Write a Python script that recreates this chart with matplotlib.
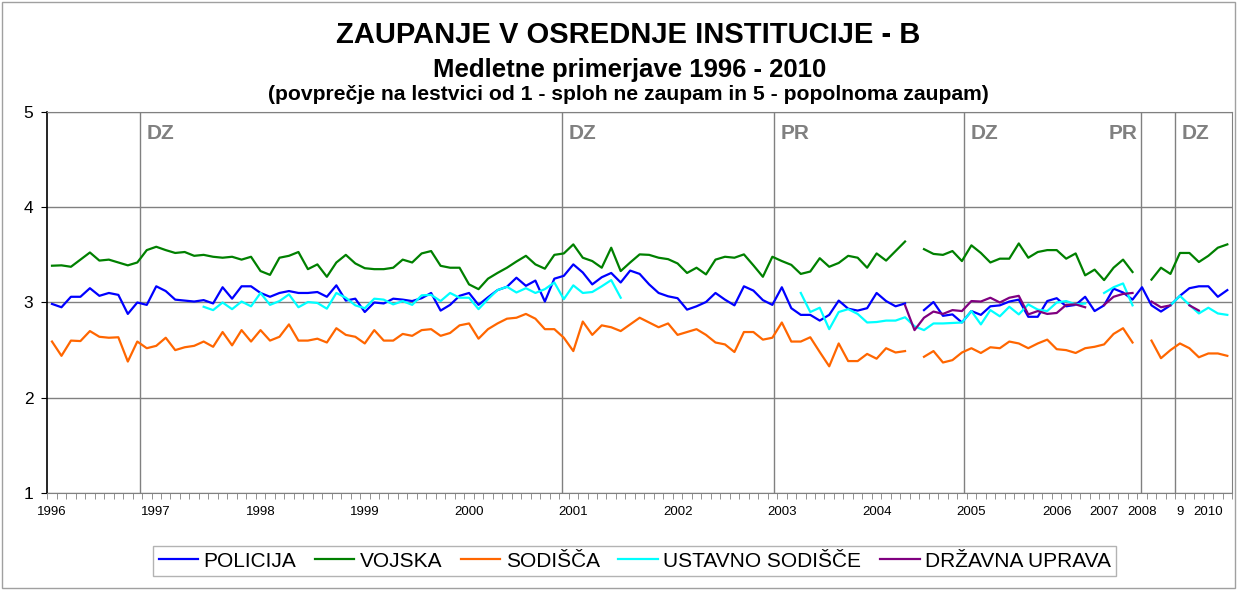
import numpy as np
import matplotlib.pyplot as plt
from matplotlib.patches import Rectangle

nan = np.nan

# monthly-ish survey points, one value per category slot
policija = [2.985, 2.95, 3.06, 3.06, 3.15, 3.07, 3.10, 3.08, 2.88, 3.0, 2.975, 3.17, 3.12, 3.03, 3.02, 3.01, 3.025, 2.99,
            3.16, 3.04, 3.17, 3.17, 3.10, 3.06, 3.10, 3.12, 3.10, 3.10, 3.11, 3.06, 3.18, 3.02, 3.04, 2.90, 3.0, 2.99,
            3.04, 3.03, 3.015, 3.045, 3.10, 2.915, 2.975, 3.07, 3.10, 2.975, 3.055, 3.13, 3.165, 3.26, 3.175, 3.23, 3.01, 3.25,
            3.28, 3.40, 3.315, 3.19, 3.265, 3.31, 3.21, 3.335, 3.30, 3.19, 3.10, 3.065, 3.045, 2.925, 2.96, 3.005, 3.10, 3.03,
            2.97, 3.17, 3.125, 3.025, 2.975, 3.16, 2.94, 2.87, 2.87, 2.81, 2.87, 3.02, 2.935, 2.915, 2.94, 3.10, 3.015, 2.96,
            2.99, nan, 2.92, 3.005, 2.86, 2.875, 2.79, 2.91, 2.87, 2.96, 2.97, 3.01, 3.03, 2.85, 2.85, 3.015, 3.045, 2.96,
            2.975, 3.06, 2.91, 2.97, 3.145, 3.105, 3.03, 3.16, 2.97, 2.905, 2.97, 3.07, 3.15, 3.17, 3.17, 3.06, 3.13]

vojska = [3.386, 3.39, 3.375, 3.45, 3.525, 3.44, 3.45, 3.42, 3.39, 3.42, 3.55, 3.585, 3.55, 3.52, 3.53, 3.49, 3.50, 3.48,
          3.47, 3.48, 3.45, 3.48, 3.33, 3.29, 3.47, 3.49, 3.53, 3.35, 3.40, 3.27, 3.42, 3.50, 3.41, 3.36, 3.35, 3.35,
          3.365, 3.45, 3.42, 3.515, 3.54, 3.385, 3.365, 3.365, 3.19, 3.14, 3.25, 3.31, 3.365, 3.43, 3.49, 3.40, 3.355, 3.50,
          3.515, 3.61, 3.47, 3.435, 3.365, 3.575, 3.33, 3.42, 3.505, 3.50, 3.47, 3.455, 3.41, 3.31, 3.365, 3.295, 3.45, 3.48,
          3.47, 3.505, 3.39, 3.27, 3.48, 3.435, 3.395, 3.30, 3.325, 3.465, 3.375, 3.415, 3.49, 3.47, 3.365, 3.515, 3.44, 3.54,
          3.64, nan, 3.56, 3.51, 3.50, 3.54, 3.435, 3.60, 3.52, 3.42, 3.46, 3.46, 3.62, 3.47, 3.53, 3.55, 3.55, 3.46,
          3.515, 3.285, 3.345, 3.235, 3.365, 3.45, 3.32, nan, 3.24, 3.365, 3.30, 3.52, 3.52, 3.425, 3.49, 3.575, 3.61]

sodisca = [2.59, 2.44, 2.60, 2.595, 2.70, 2.64, 2.63, 2.635, 2.38, 2.59, 2.52, 2.545, 2.63, 2.50, 2.53, 2.545, 2.59, 2.535,
           2.69, 2.55, 2.71, 2.59, 2.71, 2.60, 2.64, 2.77, 2.60, 2.60, 2.62, 2.58, 2.73, 2.66, 2.64, 2.57, 2.71, 2.60,
           2.60, 2.67, 2.65, 2.71, 2.72, 2.65, 2.68, 2.76, 2.78, 2.62, 2.72, 2.78, 2.83, 2.84, 2.88, 2.83, 2.72, 2.72,
           2.63, 2.49, 2.80, 2.66, 2.76, 2.74, 2.70, 2.77, 2.84, 2.79, 2.74, 2.78, 2.66, 2.69, 2.72, 2.66, 2.58, 2.56,
           2.48, 2.69, 2.69, 2.61, 2.63, 2.79, 2.59, 2.59, 2.635, 2.48, 2.33, 2.57, 2.385, 2.385, 2.46, 2.41, 2.52, 2.475,
           2.49, nan, 2.43, 2.49, 2.37, 2.395, 2.475, 2.52, 2.47, 2.53, 2.52, 2.59, 2.57, 2.52, 2.57, 2.61, 2.51, 2.50,
           2.47, 2.52, 2.535, 2.56, 2.67, 2.73, 2.58, nan, 2.60, 2.415, 2.50, 2.57, 2.52, 2.425, 2.465, 2.465, 2.44]

ustavno = ([nan] * 16 + [2.955, 2.92,
           3.0, 2.93, 3.01, 2.96, 3.10, 2.975, 3.015, 3.085, 2.95, 3.005, 2.995, 2.935, 3.10, 3.05, 2.97, 2.94, 3.04, 3.03,
           2.98, 3.015, 2.975, 3.075, 3.08, 3.015, 3.10, 3.05, 3.05, 2.93, 3.035, 3.13, 3.165, 3.105, 3.15, 3.10, 3.14, 3.21,
           3.035, 3.18, 3.10, 3.11, 3.17, 3.235, 3.05] + [nan] * 18 +
           [3.10, 2.90, 2.945, 2.72, 2.90, 2.93, 2.88, 2.79, 2.795, 2.81, 2.81,
           2.845, 2.75, 2.71, 2.78, 2.78, 2.785, 2.79, 2.91, 2.77, 2.92, 2.855, 2.955, 2.875, 2.98, 2.925, 2.91, 3.0, 3.015,
           2.98, 2.99, nan, 3.10, 3.16, 3.20, 2.97, nan, nan, nan,
           2.97, 3.07, 2.975, 2.885, 2.945, 2.885, 2.87])

drzavna = ([nan] * 90 +
           [2.97, 2.71, 2.84, 2.905, 2.88, 2.92, 2.91, 3.015, 3.01, 3.05, 3.0, 3.05, 3.07, 2.875, 2.91, 2.88, 2.89, 2.975,
            2.98, 2.95, nan, 2.975, 3.06, 3.09, 3.10, nan, 3.01, 2.95, 2.97, nan, 2.97, 2.915, nan, nan, nan])

series = [("POLICIJA", policija, "#0000FF"),
          ("VOJSKA", vojska, "#008000"),
          ("SODIŠČA", sodisca, "#FF6600"),
          ("USTAVNO SODIŠČE", ustavno, "#00FFFF"),
          ("DRŽAVNA UPRAVA", drzavna, "#800080")]

year_pos = [0, 11, 22, 33, 44, 55, 66, 77, 87, 97, 106, 111, 115, 119, 122]
year_labels = ["1996", "1997", "1998", "1999", "2000", "2001", "2002", "2003", "2004",
               "2005", "2006", "2007", "2008", "9", "2010"]

event_pos = [9.28, 53.8, 76.2, 96.2, 114.9, 118.5]
event_labels = ["DZ", "DZ", "PR", "DZ", "PR", "DZ"]

plt.rcParams['font.family'] = ['Liberation Sans', 'DejaVu Sans']

fig = plt.figure(figsize=(12.37, 5.90), dpi=100)
fig.patches.append(Rectangle((0.002, 0.003), 0.996, 0.994, transform=fig.transFigure,
                             fill=False, edgecolor='#a0a0a0', lw=1))
ax = fig.add_axes([0.0382, 0.1644, 0.9578, 0.6458])

n = len(policija)
x = np.arange(n)
for name, vals, col in series:
    ax.plot(x, vals, color=col, lw=1.6, label=name)

for p, lab in zip(event_pos, event_labels):
    ax.axvline(p, color='#808080', lw=1, zorder=0)
    if 114 < p < 116:
        # this one sits left of its line
        ax.text(p - 0.4, 4.77, lab, color='#808080', fontsize=15, fontweight='bold', ha='right', va='center')
    else:
        ax.text(p + 0.7, 4.77, lab, color='#808080', fontsize=15, fontweight='bold', ha='left', va='center')

ax.set_xlim(-0.5, n - 0.5)
ax.set_ylim(1, 5)
ax.set_yticks([1, 2, 3, 4, 5])
ax.grid(axis='y', color='#808080', lw=1)
ax.set_axisbelow(True)
ax.set_xticks(year_pos)
ax.set_xticklabels(year_labels, fontsize=9.5)
ax.set_xticks(np.arange(-0.5, n), minor=True)
ax.tick_params(axis='x', which='major', length=0, pad=9)
ax.tick_params(axis='x', which='minor', length=4, color='#808080')
ax.tick_params(axis='y', labelsize=12.5, length=4, pad=6)
for s in ['top', 'right', 'bottom']:
    ax.spines[s].set_color('#808080')
ax.spines['left'].set_color('black')
ax.spines['left'].set_linewidth(1.2)

fig.text(0.508, 0.941, "ZAUPANJE V OSREDNJE INSTITUCIJE - B", ha='center', va='center',
         fontsize=21, fontweight='bold')
fig.text(0.509, 0.882, "Medletne primerjave 1996 - 2010", ha='center', va='center',
         fontsize=18.5, fontweight='bold')
fig.text(0.508, 0.839, "(povprečje na lestvici od 1 - sploh ne zaupam in 5 - popolnoma zaupam)",
         ha='center', va='center', fontsize=15.2, fontweight='bold')

leg = fig.legend(loc='center', bbox_to_anchor=(0.513, 0.049), ncol=5, frameon=True, fancybox=False,
                 edgecolor='#a0a0a0', handlelength=1.9, columnspacing=0.9,
                 handletextpad=0.25, borderpad=0.25,
                 prop={'family': ['Liberation Sans'], 'size': 15})
leg.get_frame().set_linewidth(1)

fig.savefig("out.png", dpi=100)
